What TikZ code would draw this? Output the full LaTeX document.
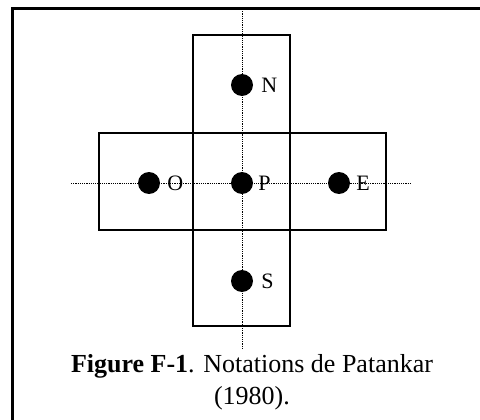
\documentclass[tikz,border=0pt]{standalone}
\usepackage{fontspec}
\setmainfont{Liberation Serif}
\usetikzlibrary{positioning}
\begin{document}
\begin{tikzpicture}[
  x=1pt, y=-1pt,
  pdot/.style={circle, fill=black, minimum size=22pt, inner sep=0pt},
  plbl/.style={font=\fontsize{22}{26}\selectfont, inner sep=1pt},
  gridline/.style={dash pattern=on 1.2pt off 1pt, line width=1pt},
  cellbox/.style={line width=2.4pt},
  outerframe/.style={line width=3pt}
]
  \useasboundingbox (0,0) rectangle (480,420);

  % outer frame (left and top only)
  \draw[outerframe] (12,421) -- (12,9) -- (481,9);

  % grid lines through the nodes
  \coordinate (hl) at (71,183);
  \coordinate (hr) at (412,183);
  \coordinate (vt) at (242,9);
  \coordinate (vb) at (242,350);
  \draw[gridline] (hl) -- (hr);
  \draw[gridline] (vt) -- (vb);

  % control volumes
  \draw[cellbox] (193,35) rectangle (290,326);
  \draw[cellbox] (99,133) rectangle (386,230);

  % nodes
  \node[pdot] (dN) at (242,85) {};
  \node[pdot] (dO) at (149,183) {};
  \node[pdot] (dP) at (242,183) {};
  \node[pdot] (dE) at (339,183) {};
  \node[pdot] (dS) at (242,281) {};

  % labels
  \node[plbl, right=7pt of dN] (lN) {N};
  \node[plbl, right=6pt of dO] (lO) {O};
  \node[plbl, right=4pt of dP] (lP) {P};
  \node[plbl, right=5pt of dE] (lE) {E};
  \node[plbl, right=7pt of dS] (lS) {S};

  % caption
  \node[font=\fontsize{26}{32}\selectfont, align=center] (cap) at (252,382)
    {\textbf{Figure F-1}. Notations de Patankar\\(1980).};
\end{tikzpicture}
\end{document}
